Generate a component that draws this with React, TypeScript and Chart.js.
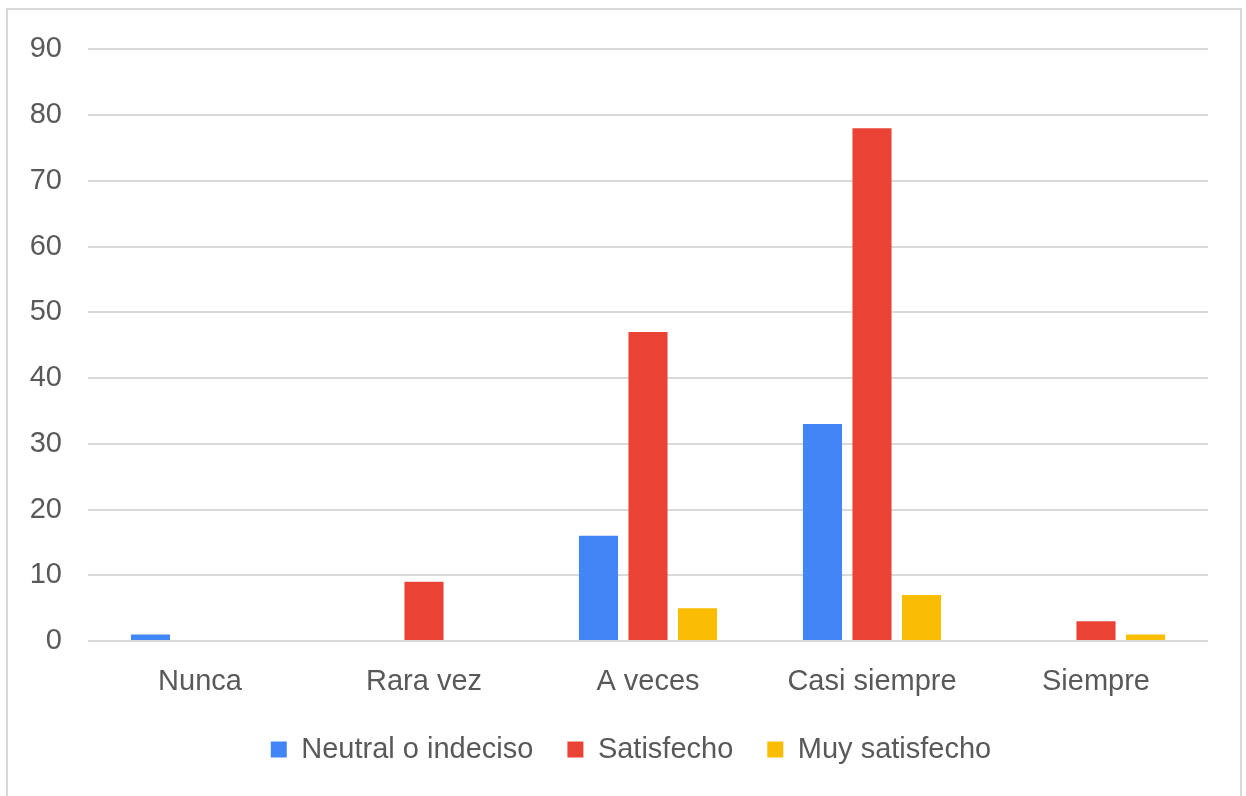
import React, { useEffect, useRef } from "react";
import { Chart, registerables } from "chart.js";

Chart.register(...registerables);

const categories = ["Nunca", "Rara vez", "A veces", "Casi siempre", "Siempre"];
const neutral = [1, 0, 16, 33, 0];
const satisfecho = [0, 9, 47, 78, 3];
const muySatisfecho = [0, 0, 5, 7, 1];
const seriesNames = ["Neutral o indeciso", "Satisfecho", "Muy satisfecho"];
const seriesColors = ["#4285F4", "#EA4335", "#FBBC04"];

const FONT = "'Liberation Sans', Arial, sans-serif";
const TEXT = "#595959";

const legendShift = {
  id: "legendShift",
  afterLayout(chart: any) {
    const lg = chart.legend;
    if (lg) {
      lg.left += 23;
      lg.right += 23;
    }
  },
};

export default function App() {
  const ref = useRef<HTMLCanvasElement | null>(null);

  useEffect(() => {
    document.body.style.margin = "0";
    if (!ref.current) return;
    const chart = new Chart(ref.current, {
      type: "bar",
      data: {
        labels: categories,
        datasets: [neutral, satisfecho, muySatisfecho].map((d, i) => ({
          label: seriesNames[i],
          data: d,
          backgroundColor: seriesColors[i],
          borderWidth: 0,
          categoryPercentage: 0.663,
          barPercentage: 0.79,
        })),
      },
      options: {
        animation: false,
        responsive: false,
        maintainAspectRatio: false,
        layout: { padding: { top: 34, right: 32, left: 0, bottom: 22 } },
        plugins: {
          tooltip: { enabled: false },
          legend: {
            position: "bottom",
            labels: {
              boxWidth: 16,
              boxHeight: 16,
              padding: 34,
              color: TEXT,
              font: { family: FONT, size: 29 },
            },
          },
        },
        scales: {
          x: {
            grid: { display: false, drawTicks: false },
            border: { display: false },
            ticks: { color: TEXT, font: { family: FONT, size: 29 }, padding: 24 },
            afterFit: (s: any) => {
              s.height = 60;
            },
          },
          y: {
            min: 0,
            max: 90,
            ticks: { stepSize: 10, color: TEXT, font: { family: FONT, size: 29 }, padding: 26 },
            grid: { color: "#d9d9d9", lineWidth: 2, drawTicks: false },
            border: { display: false },
            afterFit: (s: any) => {
              s.width = 80;
            },
          },
        },
      },
      plugins: [legendShift],
    });
    return () => chart.destroy();
  }, []);

  return (
    <div
      style={{
        position: "fixed",
        left: 6,
        top: 8,
        width: 1236,
        height: 790,
        boxSizing: "border-box",
        border: "2px solid #d9d9d9",
        background: "#fff",
      }}
    >
      <canvas
        ref={ref}
        width={1232}
        height={790}
        style={{ display: "block", position: "absolute", left: 0, top: -4 }}
      />
    </div>
  );
}
